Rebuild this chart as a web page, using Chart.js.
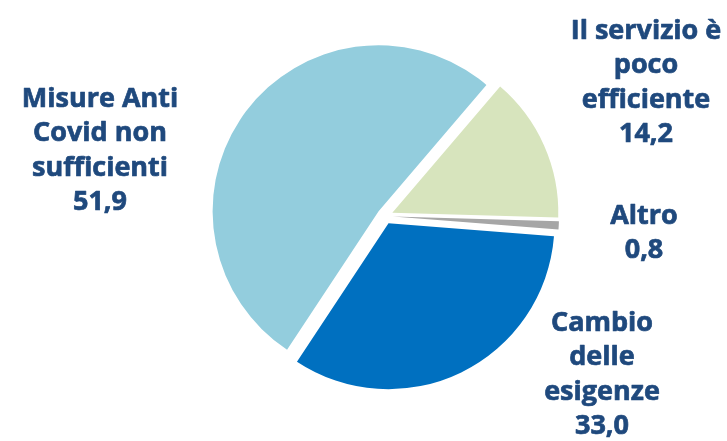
<!DOCTYPE html>
<html>
<head>
<meta charset="utf-8">
<script src="https://cdn.jsdelivr.net/npm/chart.js@4"></script>
<style>
  html, body { margin: 0; padding: 0; background: #fff; }
  #wrap { width: 727px; height: 441px; }
</style>
</head>
<body>
<div id="wrap"><canvas id="chartCanvas" width="727" height="441"></canvas></div>
<script>
const categories = ['Il servizio è poco efficiente', 'Altro', 'Cambio delle esigenze', 'Misure Anti Covid non sufficienti'];
const values = [14.2, 0.8, 33.0, 51.9];
const labelLines = [
  ['Il servizio è', 'poco', 'efficiente'],
  ['Altro'],
  ['Cambio', 'delle', 'esigenze'],
  ['Misure Anti', 'Covid non', 'sufficienti']
];
const sliceColors = ['#D7E4BD', '#A6A6A6', '#0070C0', '#93CDDD'];

// where each text block sits (top line centre)
const labelPos = [
  { x: 646, y: 31 },
  { x: 644, y: 216 },
  { x: 602, y: 323 },
  { x: 100, y: 99 }
];

const EXPLODE = 8; // px each slice is pulled out along its mid angle

const fmt = v => v.toFixed(1).replace('.', ',');

// pull every slice out by the same distance without changing its radius
// (the built-in `offset` also grows big slices)
const explode = {
  id: 'explode',
  beforeDatasetsDraw(chart) {
    const meta = chart.getDatasetMeta(0);
    meta.data.forEach(arc => {
      if (arc._baseX === undefined) {
        arc._baseX = arc.x;
        arc._baseY = arc.y;
      }
      const mid = (arc.startAngle + arc.endAngle) / 2;
      arc.x = arc._baseX + Math.cos(mid) * EXPLODE;
      arc.y = arc._baseY + Math.sin(mid) * EXPLODE;
    });
  }
};

const outsideLabels = {
  id: 'outsideLabels',
  afterDraw(chart) {
    const ctx = chart.ctx;
    ctx.save();
    ctx.fillStyle = '#1F497D';
    ctx.strokeStyle = '#1F497D';
    ctx.lineWidth = 0.7;
    ctx.lineJoin = 'round';
    ctx.font = 'bold 27px "Open Sans"';
    ctx.textAlign = 'center';
    ctx.textBaseline = 'middle';
    const lh = 34.5;
    chart.data.labels.forEach((_, i) => {
      const lines = labelLines[i].concat([fmt(chart.data.datasets[0].data[i])]);
      lines.forEach((t, j) => {
        ctx.fillText(t, labelPos[i].x, labelPos[i].y + j * lh);
        ctx.strokeText(t, labelPos[i].x, labelPos[i].y + j * lh);
      });
    });
    ctx.restore();
  }
};

const ctx = document.getElementById('chartCanvas').getContext('2d');
new Chart(ctx, {
  type: 'pie',
  data: {
    labels: categories,
    datasets: [{
      data: values,
      backgroundColor: sliceColors,
      borderWidth: 0
    }]
  },
  options: {
    responsive: false,
    animation: false,
    rotation: 40.5,
    radius: 166,
    layout: { padding: { left: 43, right: 0, top: 0, bottom: 9 } },
    plugins: {
      legend: { display: false },
      tooltip: { enabled: false }
    }
  },
  plugins: [explode, outsideLabels]
});
</script>
</body>
</html>
